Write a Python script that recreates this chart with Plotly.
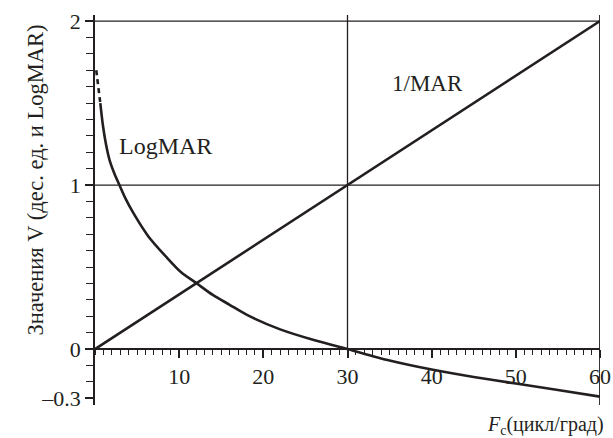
import plotly.graph_objects as go

# Data
mar_x = [0, 60]
mar_y = [0, 2]

logmar_dash_x = [0.15, 0.40, 0.63]
logmar_dash_y = [1.70, 1.60, 1.50]

logmar_x = [0.63, 0.95, 1.3, 1.74, 2.3, 2.9, 3.6, 4.55, 6.3, 8.5, 10.2, 12.1, 14.0, 16.0, 18.0, 22.0, 26.0, 30.0, 35.0, 40.0, 45.0, 50.0, 55.0, 60.0]
logmar_y = [1.50, 1.36, 1.25, 1.15, 1.07, 1.00, 0.92, 0.83, 0.69, 0.56, 0.47, 0.40, 0.33, 0.27, 0.21, 0.12, 0.055, 0.00, -0.07, -0.125, -0.17, -0.21, -0.25, -0.29]

y_tickvals = [-0.3, 0, 1, 2]
y_ticktext = ["\u20130.3", "0", "1", "2"]
x_tickvals = [10, 20, 30, 40, 50, 60]
x_ticktext = ["10", "20", "30", "40", "50", "60"]

FONT = "Liberation Serif, Times New Roman, serif"
INK = "#231f20"

y_lo, y_hi = -0.341, 2.037

fig = go.Figure()

fig.add_trace(go.Scatter(x=mar_x, y=mar_y, mode="lines",
                         line=dict(color=INK, width=2.6), showlegend=False, hoverinfo="skip"))
fig.add_trace(go.Scatter(x=logmar_x, y=logmar_y, mode="lines",
                         line=dict(color=INK, width=2.6, shape="spline", smoothing=0.8),
                         showlegend=False, hoverinfo="skip"))
fig.add_trace(go.Scatter(x=logmar_dash_x, y=logmar_dash_y, mode="lines",
                         line=dict(color=INK, width=2.6, dash="5px,4px"),
                         showlegend=False, hoverinfo="skip"))

grid = dict(color=INK, width=1.3)
fig.add_shape(type="line", x0=0, x1=60, y0=1, y1=1, line=grid, layer="below")
fig.add_shape(type="line", x0=0, x1=60, y0=2, y1=2, line=grid, layer="below")
fig.add_shape(type="line", x0=30, x1=30, y0=0, y1=y_hi, line=grid, layer="below")
fig.add_shape(type="line", x0=60, x1=60, y0=y_lo, y1=y_hi, line=dict(color=INK, width=1.8), layer="below")

fig.update_layout(
    width=613, height=438,
    margin=dict(l=95, r=13, t=15, b=33, autoexpand=False),
    paper_bgcolor="white", plot_bgcolor="white",
    font=dict(family=FONT, size=22, color=INK),
    xaxis=dict(range=[0, 60], showgrid=False, zeroline=False, automargin=False,
               showline=True, linecolor=INK, linewidth=1.8,
               anchor="free", position=(0 - y_lo) / (y_hi - y_lo),
               tickmode="array", tickvals=x_tickvals, ticktext=x_ticktext,
               ticks="outside", ticklen=8, tickwidth=1.6, tickcolor=INK,
               minor=dict(dtick=1, tick0=0, ticks="outside", ticklen=5, tickwidth=1.4, tickcolor=INK),
               tickfont=dict(family=FONT, size=22, color=INK)),
    yaxis=dict(range=[y_lo, y_hi], showgrid=False, zeroline=False, automargin=False,
               showline=True, linecolor=INK, linewidth=1.8,
               tickmode="array", tickvals=y_tickvals, ticktext=y_ticktext,
               ticks="outside", ticklen=8, tickwidth=1.6, tickcolor=INK,
               minor=dict(dtick=0.1, tick0=0, ticks="outside", ticklen=7, tickwidth=1.4, tickcolor=INK),
               tickfont=dict(family=FONT, size=22, color=INK)),
)

fig.add_annotation(x=8.4, y=1.24, text="LogMAR", showarrow=False,
                   font=dict(family=FONT, size=24, color=INK))
fig.add_annotation(x=39.5, y=1.62, text="1/MAR", showarrow=False,
                   font=dict(family=FONT, size=23, color=INK))
fig.add_annotation(xref="paper", yref="paper", x=(20 - 95) / 505, y=(405 - 180) / 390,
                   text="Значения V (дес. ед. и LogMAR)", textangle=-90, showarrow=False,
                   font=dict(family=FONT, size=22.5, color=INK))
fig.add_annotation(xref="paper", yref="paper", x=(606 - 95) / 505, xanchor="right",
                   y=(405 - 425) / 390, yanchor="middle",
                   text="<i>F</i><sub>c</sub>(цикл/град)", showarrow=False,
                   font=dict(family=FONT, size=20, color=INK))

fig.write_html("out.html", config={"displayModeBar": False},
               post_script="document.body.style.margin='0';document.body.style.padding='0';document.body.style.overflow='hidden';")
